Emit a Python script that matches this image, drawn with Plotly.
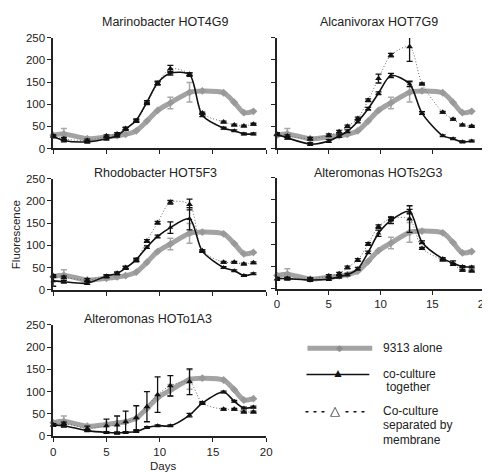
import plotly.graph_objects as go

W, H = 490, 472

days = [0, 1, 3.2, 5, 6, 6.8, 7.8, 8.8, 9.8, 11, 12.8, 14, 16, 17, 17.9, 18.8]

alone = [30, 33, 22, 26, 29, 32, 40, 62, 86, 103, 127, 130, 126, 104, 81, 84]
alone_err = [0, 12, 0, 0, 0, 0, 0, 0, 0, 13, 22, 0, 0, 0, 0, 0]

titles = ["Marinobacter HOT4G9", "Alcanivorax HOT7G9", "Rhodobacter HOT5F3",
          "Alteromonas HOTs2G3", "Alteromonas HOTo1A3"]

together = [
    [27, 18, 15, 22, 29, 44, 64, 105, 148, 170, 167, 75, 46, 40, 33, 33],
    [32, 24, 10, 17, 28, 39, 61, 90, 125, 165, 146, 80, 29, 22, 15, 17],
    [20, 18, 15, 31, 37, 49, 68, 96, 120, 140, 160, 87, 50, 43, 32, 36],
    [23, 23, 20, 22, 27, 32, 45, 82, 125, 154, 174, 105, 68, 58, 50, 49],
    [25, 23, 12, 8, 7, 8, 10, 19, 23, 23, 47, 74, 99, 78, 63, 65],
]
together_err = [
    [3, 3, 3, 3, 3, 3, 3, 3, 4, 4, 4, 3, 2, 2, 2, 2],
    [3, 3, 3, 3, 3, 3, 3, 3, 3, 5, 6, 3, 2, 2, 2, 2],
    [12, 3, 3, 3, 3, 3, 3, 3, 3, 13, 25, 3, 2, 2, 2, 2],
    [3, 3, 3, 3, 3, 3, 3, 3, 7, 7, 5, 3, 2, 5, 2, 2],
    [3, 3, 2, 2, 2, 2, 2, 2, 2, 2, 4, 3, 2, 2, 2, 2],
]
separated = [
    [28, 22, 18, 28, 33, 45, 62, 102, 147, 180, 168, 80, 60, 53, 51, 55],
    [32, 28, 22, 30, 38, 50, 68, 109, 158, 211, 230, 146, 82, 66, 53, 50],
    [31, 28, 22, 30, 37, 50, 66, 110, 151, 197, 192, 88, 62, 62, 58, 61],
    [22, 23, 22, 29, 34, 48, 65, 101, 140, 158, 157, 91, 65, 55, 42, 40],
    [25, 28, 17, 23, 25, 32, 41, 66, 93, 113, 122, 74, 60, 60, 54, 54],
]
separated_err = [
    [3, 3, 3, 3, 3, 3, 3, 3, 3, 8, 3, 2, 2, 2, 2, 2],
    [3, 3, 3, 3, 3, 3, 3, 3, 10, 4, 33, 2, 2, 2, 2, 2],
    [3, 3, 3, 3, 3, 3, 3, 3, 3, 4, 12, 2, 2, 2, 2, 2],
    [3, 3, 3, 3, 3, 3, 3, 3, 4, 4, 30, 2, 2, 2, 2, 2],
    [3, 3, 5, 15, 20, 24, 27, 34, 40, 23, 29, 2, 2, 2, 2, 2],
]

x_ticks = [0, 5, 10, 15, 20]
y_ticks = [0, 50, 100, 150, 200, 250]

# panel pixel boxes: (left, right, top, bottom)
boxes = [(43, 260, 24.5, 138), (271, 482, 24.5, 138),
         (43, 260, 169, 283), (271, 482, 168, 282),
         (43, 260, 319, 433)]
title_pos = [(157, 8), (375, 8), (147, 163), (374, 163), (140, 313)]

FONT = "Liberation Sans, Arial, sans-serif"
GRAY = "#a3a3a3"
BLACK = "#111111"
SMOOTH = 0.8

fig = go.Figure()
for i in range(5):
    xa = "x" if i == 0 else f"x{i+1}"
    ya = "y" if i == 0 else f"y{i+1}"
    fig.add_trace(go.Scatter(
        x=days, y=alone, xaxis=xa, yaxis=ya, mode="lines+markers",
        line=dict(color=GRAY, width=5, shape="spline", smoothing=SMOOTH),
        marker=dict(symbol="diamond", size=6, color="#999999"),
        error_y=dict(type="data", array=alone_err, color="#a8a8a8", thickness=1.5, width=3),
        cliponaxis=False, showlegend=False))
    fig.add_trace(go.Scatter(
        x=days, y=separated[i], xaxis=xa, yaxis=ya, mode="lines+markers",
        line=dict(color="#6a6a6a", width=1, dash="1px,2px", shape="spline", smoothing=SMOOTH),
        marker=dict(symbol="triangle-up", size=6, color=BLACK),
        error_y=dict(type="data", array=separated_err[i], color=BLACK, thickness=1.3, width=3),
        cliponaxis=False, showlegend=False))
    fig.add_trace(go.Scatter(
        x=days, y=together[i], xaxis=xa, yaxis=ya, mode="lines+markers",
        line=dict(color=BLACK, width=1.6, shape="spline", smoothing=SMOOTH),
        marker=dict(symbol="triangle-up", size=5, color=BLACK),
        error_y=dict(type="data", array=together_err[i], color=BLACK, thickness=1.3, width=3),
        cliponaxis=False, showlegend=False))

layout = dict(
    width=W, height=H, margin=dict(l=0, r=0, t=0, b=0),
    paper_bgcolor="white", plot_bgcolor="white",
    font=dict(family=FONT, size=11, color="#222222"),
    showlegend=False,
)
for i, (l, r, t, b) in enumerate(boxes):
    sx = "" if i == 0 else str(i + 1)
    layout["xaxis" + sx] = dict(
        domain=[l / W, r / W], range=[0, 20], anchor="y" + sx,
        showline=True, linecolor="#222222", linewidth=1.5,
        ticks="outside", ticklen=4, tickwidth=1.2, tickcolor="#222222",
        tickvals=x_ticks, showticklabels=(i in (3, 4)),
        showgrid=False, zeroline=False, tickfont=dict(size=11.5))
    layout["yaxis" + sx] = dict(
        domain=[1 - b / H, 1 - t / H], range=[0, 250], anchor="x" + sx,
        showline=True, linecolor="#222222", linewidth=1.5,
        ticks="outside", ticklen=4, tickwidth=1.2, tickcolor="#222222",
        tickvals=y_ticks, showticklabels=(i in (0, 2, 4)),
        showgrid=False, zeroline=False, tickfont=dict(size=11.5))
fig.update_layout(**layout)

annotations = []
for (tx, ty), txt in zip(title_pos, titles):
    annotations.append(dict(x=tx / W, y=1 - ty / H, xref="paper", yref="paper",
                            text=txt, showarrow=False, xanchor="center", yanchor="middle",
                            font=dict(size=12.5, color="#222222")))
annotations.append(dict(x=5 / W, y=1 - 226 / H, xref="paper", yref="paper", text="Fluorescence",
                        textangle=-90, showarrow=False, xanchor="center", yanchor="middle",
                        font=dict(size=11.5)))
annotations.append(dict(x=155 / W, y=1 - 464 / H, xref="paper", yref="paper", text="Days",
                        showarrow=False, xanchor="center", yanchor="middle", font=dict(size=11.5)))

# legend (drawn manually)
legend_lines = [("9313 alone", 343), ("co-culture", 369), (" together", 383),
                ("Co-culture", 407), ("separated by", 422), ("membrane", 437)]
for txt, ly in legend_lines:
    annotations.append(dict(x=377 / W, y=1 - ly / H, xref="paper", yref="paper", text=txt,
                            showarrow=False, xanchor="left", yanchor="middle",
                            font=dict(size=12, color="#222222")))
annotations.append(dict(x=335 / W, y=1 - 343 / H, xref="paper", yref="paper", text="◆",
                        showarrow=False, xanchor="center", yanchor="middle",
                        font=dict(size=9, color="#8f8f8f")))
annotations.append(dict(x=333 / W, y=1 - 368 / H, xref="paper", yref="paper", text="▲",
                        showarrow=False, xanchor="center", yanchor="middle",
                        font=dict(size=12, color=BLACK)))
annotations.append(dict(x=330 / W, y=1 - 407 / H, xref="paper", yref="paper", text="△",
                        showarrow=False, xanchor="center", yanchor="middle",
                        bgcolor="white", font=dict(size=13, color=BLACK)))

shapes = [
    dict(type="line", xref="paper", yref="paper", x0=302 / W, x1=368 / W,
         y0=1 - 343 / H, y1=1 - 343 / H, line=dict(color=GRAY, width=5), layer="below"),
    dict(type="line", xref="paper", yref="paper", x0=301 / W, x1=365 / W,
         y0=1 - 370 / H, y1=1 - 370 / H, line=dict(color=BLACK, width=1.5), layer="below"),
    dict(type="line", xref="paper", yref="paper", x0=300 / W, x1=362 / W,
         y0=1 - 408 / H, y1=1 - 408 / H, line=dict(color=BLACK, width=1.5, dash="3px,5px"),
         layer="below"),
]
fig.update_layout(annotations=annotations, shapes=shapes)

fig.write_html("out.html")
